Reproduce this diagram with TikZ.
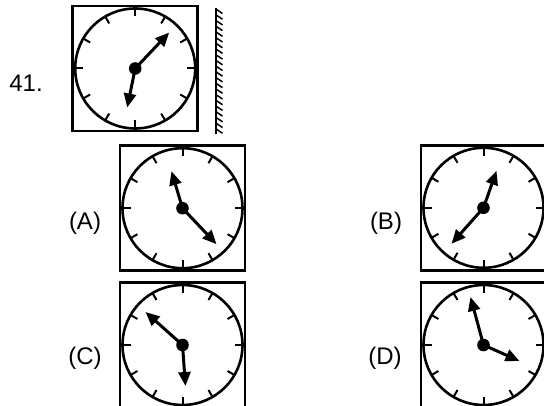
\documentclass[tikz,border=0pt]{standalone}
\usepackage{fontspec}
\setmainfont{Liberation Sans}
\usetikzlibrary{arrows.meta,calc}
\tikzset{
  frame/.style={line width=2.8pt},
  dial/.style={line width=2.6pt},
  tick/.style={line width=2pt},
  hand/.style={line width=3pt,-{Triangle[length=14pt,width=12pt]}},
  lbl/.style={font=\fontsize{24}{28}\selectfont,inner sep=0pt}
}
\newcommand{\myclock}[6]{%
  % #1,#2 centre; #3,#4 hand 1 vector; #5,#6 hand 2 vector
  \draw[frame] (#1-62.5,#2-62.5) rectangle (#1+62.5,#2+62.5);
  \draw[dial] (#1,#2) circle (60);
  \foreach \a in {0,30,...,330}
    \draw[tick] ($(#1,#2)+(\a:60)$) -- ($(#1,#2)+(\a:52)$);
  \draw[hand] (#1,#2) -- ++(#3,#4);
  \draw[hand] (#1,#2) -- ++(#5,#6);
  \fill (#1,#2) circle (6.3);
}
\begin{document}
\begin{tikzpicture}[x=1pt,y=-1pt]
\useasboundingbox (0,0) rectangle (544,406);
% question clock
\myclock{135.2}{68.5}{34}{-36}{-8}{39}
% mirror
\draw[line width=2.2pt] (215.7,8) -- (215.7,134);
\foreach \y in {9,14.7,...,130}
  \draw[line width=1.5pt] (215.7,\y) -- (222.5,\y+4.5);
\node[lbl] (q) at (26,83) {41.};
% options
\myclock{182.5}{208.2}{-11}{-37}{34}{36}
\node[lbl] (A) at (85,223) {(A)};
\myclock{483.5}{207.8}{13}{-37}{-32}{36}
\node[lbl] (B) at (386,223) {(B)};
\myclock{182.5}{345}{-37}{-33}{3}{41}
\node[lbl] (C) at (85,358) {(C)};
\myclock{483.5}{345}{-13}{-48}{36}{16}
\node[lbl] (D) at (385,358) {(D)};
\end{tikzpicture}
\end{document}
